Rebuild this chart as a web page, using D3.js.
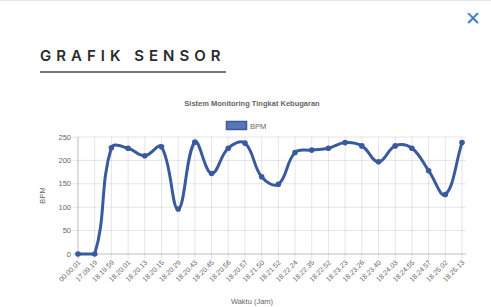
<!DOCTYPE html>
<html>
<head>
<meta charset="utf-8">
<script src="https://cdn.jsdelivr.net/npm/d3@7"></script>
<style>
  html, body { margin: 0; padding: 0; background: #fff; }
  body { width: 491px; height: 307px; overflow: hidden; position: relative; font-family: "Open Sans", "Noto Sans", sans-serif; }
  .topline { position: absolute; left: 0; top: 0; width: 491px; height: 1px; background: #e4e4e4; }
  .close { position: absolute; left: 465px; top: 7px; color: #3f7fbf; font: bold 19px "DejaVu Sans", sans-serif; }
  .heading { position: absolute; left: 40px; top: 46px; font: 600 15px "Inter", "Open Sans", sans-serif; letter-spacing: 5px; color: #2b2b2b; }
  .rule { position: absolute; left: 40px; top: 71px; width: 186px; height: 1.5px; background: #777; }
  svg { position: absolute; left: 0; top: 0; }
</style>
</head>
<body>
<div class="topline"></div>
<div class="close">✕</div>
<div class="heading">GRAFIK SENSOR</div>
<div class="rule"></div>
<svg id="chart" width="491" height="307"></svg>
<script>
const labels = ["00.00.01", "17.09.19", "18.19.59", "18.20.01", "18.20.13", "18.20.15",
  "18.20.29", "18.20.43", "18.20.45", "18.20.56", "18.20.57", "18.21.50", "18.21.52",
  "18.22.24", "18.22.35", "18.22.52", "18.23.23", "18.23.26", "18.23.40", "18.24.03",
  "18.24.55", "18.24.57", "18.25.02", "18.25.13"];
const bpm = [0, 0, 227, 226, 210, 229, 96, 239, 172, 226, 237, 165, 149, 217,
  222, 226, 238, 231, 197, 231, 226, 178, 127, 238];
const yTicks = [0, 50, 100, 150, 200, 250];

const svg = d3.select("#chart");
const plotLeft = 78, plotRight = 462, plotTop = 137, plotBottom = 254;
const lineColor = "#3a5a9e";
const textColor = "#666";

const x = d3.scalePoint().domain(labels).range([plotLeft, plotRight]);
const y = d3.scaleLinear().domain([0, 250]).range([plotBottom, plotTop]);

// grid
svg.append("g")
  .selectAll("line")
  .data(yTicks)
  .enter()
  .append("line")
  .attr("x1", plotLeft - 5)
  .attr("x2", plotRight + 4)
  .attr("y1", (d) => y(d))
  .attr("y2", (d) => y(d))
  .attr("stroke", (d) => d === 0 ? "rgba(0,0,0,0.25)" : "rgba(0,0,0,0.1)")
  .attr("stroke-width", 1);

svg.append("g")
  .selectAll("line")
  .data(labels)
  .enter()
  .append("line")
  .attr("x1", (d) => x(d))
  .attr("x2", (d) => x(d))
  .attr("y1", plotTop)
  .attr("y2", plotBottom + 5)
  .attr("stroke", (d, i) => i === 0 ? "rgba(0,0,0,0.25)" : "rgba(0,0,0,0.1)")
  .attr("stroke-width", 1);

// y tick labels
svg.append("g")
  .selectAll("text")
  .data(yTicks)
  .enter()
  .append("text")
  .attr("x", plotLeft - 7)
  .attr("y", (d) => y(d) + 2.5)
  .attr("text-anchor", "end")
  .attr("fill", textColor)
  .style("font", "7.5px 'Liberation Sans', Arial, sans-serif")
  .text((d) => d);

// x tick labels
svg.append("g")
  .selectAll("text")
  .data(labels)
  .enter()
  .append("text")
  .attr("transform", (d) => `translate(${x(d) + 3},${plotBottom + 9}) rotate(-45)`)
  .attr("text-anchor", "end")
  .attr("fill", textColor)
  .style("font", "7px 'Liberation Sans', Arial, sans-serif")
  .text((d) => d);

// spline like chart.js (tension 0.4, capped to the chart area)
const pts = bpm.map((v, i) => ({ x: x(labels[i]), y: y(v) }));
const tension = 0.4;
const clampY = (v) => Math.max(plotTop, Math.min(plotBottom, v));
pts.forEach((p, i) => {
  const p0 = pts[Math.max(i - 1, 0)];
  const p2 = pts[Math.min(i + 1, pts.length - 1)];
  const d01 = Math.hypot(p.x - p0.x, p.y - p0.y);
  const d12 = Math.hypot(p2.x - p.x, p2.y - p.y);
  const sum = d01 + d12 || 1;
  const fa = tension * d01 / sum, fb = tension * d12 / sum;
  p.px = p.x - fa * (p2.x - p0.x);
  p.py = clampY(p.y - fa * (p2.y - p0.y));
  p.nx = p.x + fb * (p2.x - p0.x);
  p.ny = clampY(p.y + fb * (p2.y - p0.y));
});
const path = d3.path();
path.moveTo(pts[0].x, pts[0].y);
for (let i = 1; i < pts.length; i++) {
  path.bezierCurveTo(pts[i - 1].nx, pts[i - 1].ny, pts[i].px, pts[i].py, pts[i].x, pts[i].y);
}
svg.append("path")
  .attr("d", path.toString())
  .attr("fill", "none")
  .attr("stroke", lineColor)
  .attr("stroke-width", 3);

svg.append("g")
  .selectAll("circle")
  .data(pts)
  .enter()
  .append("circle")
  .attr("cx", (d) => d.x)
  .attr("cy", (d) => d.y)
  .attr("r", 2.8)
  .attr("fill", lineColor);

// title
svg.append("text")
  .attr("x", 252)
  .attr("y", 106)
  .attr("text-anchor", "middle")
  .attr("fill", textColor)
  .style("font", "bold 7.5px 'Liberation Sans', Arial, sans-serif")
  .text("Sistem Monitoring Tingkat Kebugaran");

// legend
svg.append("rect")
  .attr("x", 226.5)
  .attr("y", 121.5)
  .attr("width", 20)
  .attr("height", 8)
  .attr("fill", "#5a76b8")
  .attr("stroke", lineColor)
  .attr("stroke-width", 1.5);
svg.append("text")
  .attr("x", 250)
  .attr("y", 128.5)
  .attr("fill", textColor)
  .style("font", "7.5px 'Liberation Sans', Arial, sans-serif")
  .text("BPM");

// axis titles
svg.append("text")
  .attr("transform", `translate(45,${(plotTop + plotBottom) / 2}) rotate(-90)`)
  .attr("text-anchor", "middle")
  .attr("fill", textColor)
  .style("font", "7.5px 'Liberation Sans', Arial, sans-serif")
  .text("BPM");
svg.append("text")
  .attr("x", 252)
  .attr("y", 304)
  .attr("text-anchor", "middle")
  .attr("fill", textColor)
  .style("font", "7.5px 'Liberation Sans', Arial, sans-serif")
  .text("Waktu (Jam)");
</script>
</body>
</html>
